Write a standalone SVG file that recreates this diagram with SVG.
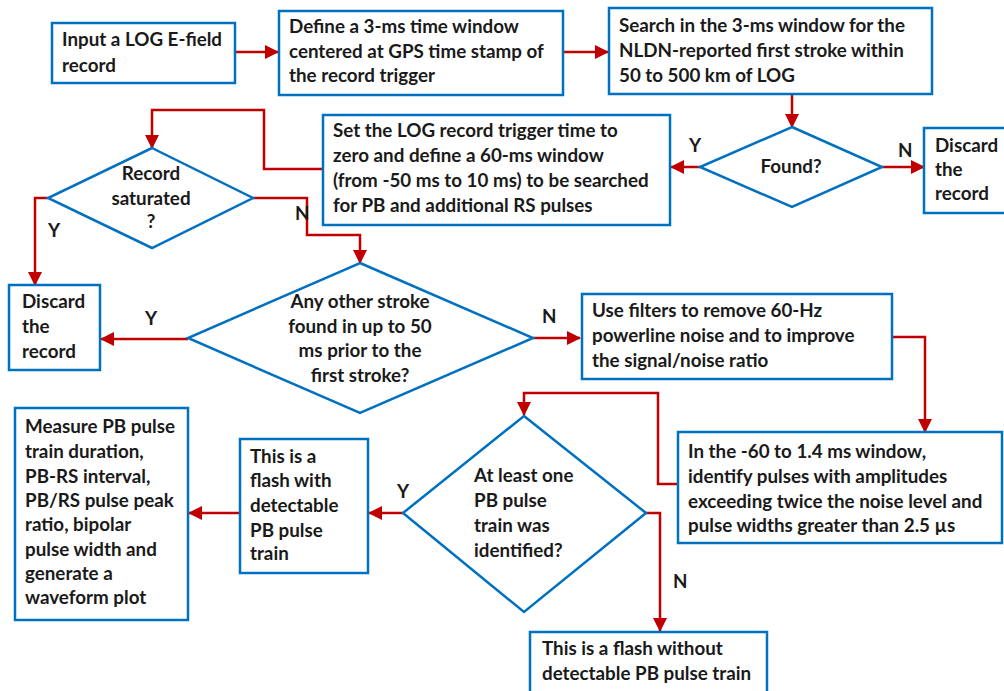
<svg xmlns="http://www.w3.org/2000/svg" width="1004" height="691" viewBox="0 0 1004 691">
<style>
.box{fill:#fff;stroke:#0070C0;stroke-width:2.5}
.dia{fill:#fff;stroke:#0070C0;stroke-width:2.5}
.ln{fill:none;stroke:#C00000;stroke-width:2.5}
text{font-family:Lato,"Liberation Sans",sans-serif;font-weight:bold;font-size:18.8px;fill:#1a1a1a}
.c{text-anchor:middle}
</style>
<defs>
<marker id="ah" markerUnits="userSpaceOnUse" markerWidth="14" markerHeight="14" viewBox="0 0 14 14" refX="13" refY="7" orient="auto">
<path d="M0,0 L14,7 L0,14 Z" fill="#C00000"/>
</marker>
</defs>
<rect width="1004" height="691" fill="#fff"/>
<g id="connectors">
<path class="ln" d="M235,52 H278" marker-end="url(#ah)"/>
<path class="ln" d="M563,52 H608" marker-end="url(#ah)"/>
<path class="ln" d="M792,94 V127" marker-end="url(#ah)"/>
<path class="ln" d="M700,167 H671" marker-end="url(#ah)"/>
<path class="ln" d="M882,167 H924" marker-end="url(#ah)"/>
<path class="ln" d="M323,169 H264 V110 H152 V148" marker-end="url(#ah)"/>
<path class="ln" d="M48,198 H35 V285" marker-end="url(#ah)"/>
<path class="ln" d="M253,198 H307 V235 H360 V263" marker-end="url(#ah)"/>
<path class="ln" d="M188,339 H101" marker-end="url(#ah)"/>
<path class="ln" d="M533,338 H580" marker-end="url(#ah)"/>
<path class="ln" d="M892,337 H925 V432" marker-end="url(#ah)"/>
<path class="ln" d="M678,484 H658 V393 H524 V415" marker-end="url(#ah)"/>
<path class="ln" d="M403,513 H369" marker-end="url(#ah)"/>
<path class="ln" d="M240,513 H189" marker-end="url(#ah)"/>
<path class="ln" d="M646,513 H660 V631" marker-end="url(#ah)"/>
<text x="689" y="152">Y</text>
<text x="898" y="157">N</text>
<text x="48" y="237">Y</text>
<text x="295" y="220">N</text>
<text x="145" y="325">Y</text>
<text x="542" y="323">N</text>
<text x="397" y="498">Y</text>
<text x="673" y="588">N</text>
</g>
<g id="n1"><rect class="box" x="52" y="23" width="183" height="60"/>
<text x="62" y="46">Input a LOG E-field</text><text x="62" y="72">record</text></g>
<g id="n2"><rect class="box" x="279" y="11" width="284" height="84"/>
<text x="289" y="33">Define a 3-ms time window</text><text x="289" y="58">centered at GPS time stamp of</text><text x="289" y="82">the record trigger</text></g>
<g id="n3"><rect class="box" x="609" y="8" width="323" height="86"/>
<text x="619" y="32">Search in the 3-ms window for the</text><text x="619" y="57">NLDN-reported first stroke within</text><text x="619" y="82">50 to 500 km of LOG</text></g>
<g id="n4"><polygon class="dia" points="792,127 882,167 792,207 700,167"/>
<text class="c" x="791" y="173">Found?</text></g>
<g id="n5"><rect class="box" x="924" y="128" width="90" height="85"/>
<text x="935" y="152">Discard</text><text x="935" y="176">the</text><text x="935" y="200">record</text></g>
<g id="n6"><rect class="box" x="323" y="115" width="347" height="110"/>
<text x="333" y="137">Set the LOG record trigger time to</text><text x="333" y="162">zero and define a 60-ms window</text><text x="333" y="187">(from -50 ms to 10 ms) to be searched</text><text x="333" y="212">for PB and additional  RS pulses</text></g>
<g id="n7"><polygon class="dia" points="152,148 253,198 152,248 48,198"/>
<text class="c" x="151" y="180">Record</text><text class="c" x="151" y="205">saturated</text><text class="c" x="151" y="228">?</text></g>
<g id="n8"><rect class="box" x="9" y="285" width="91" height="85"/>
<text x="22" y="308">Discard</text><text x="22" y="333">the</text><text x="22" y="358">record</text></g>
<g id="n9"><polygon class="dia" points="360,263 533,338 360,413 188,338"/>
<text class="c" x="360" y="308">Any other stroke</text><text class="c" x="360" y="333">found in up to 50</text><text class="c" x="360" y="357">ms prior to the</text><text class="c" x="360" y="382">first stroke?</text></g>
<g id="n10"><rect class="box" x="582" y="294" width="310" height="85"/>
<text x="592" y="317">Use filters to remove 60-Hz</text><text x="592" y="342">powerline noise and to improve</text><text x="592" y="367">the signal/noise  ratio</text></g>
<g id="n11"><rect class="box" x="678" y="432" width="324" height="111"/>
<text x="688" y="458">In the -60 to 1.4 ms window,</text><text x="688" y="483">identify pulses with amplitudes</text><text x="688" y="508">exceeding twice the noise level and</text><text x="688" y="532">pulse widths greater than 2.5 µs</text></g>
<g id="n12"><polygon class="dia" points="524,416 646,513 524,612 403,513"/>
<text x="474" y="482">At least one</text><text x="474" y="507">PB pulse</text><text x="474" y="532">train was</text><text x="474" y="557">identified?</text></g>
<g id="n13"><rect class="box" x="240" y="439" width="128" height="134"/>
<text x="250" y="463">This is a</text><text x="250" y="487">flash with</text><text x="250" y="512">detectable</text><text x="250" y="537">PB pulse</text><text x="250" y="560">train</text></g>
<g id="n14"><rect class="box" x="15" y="408" width="173" height="212"/>
<text x="25" y="433">Measure PB pulse</text><text x="25" y="458">train duration,</text><text x="25" y="483">PB-RS interval,</text><text x="25" y="507">PB/RS pulse peak</text><text x="25" y="531">ratio, bipolar</text><text x="25" y="556">pulse width and</text><text x="25" y="580">generate a</text><text x="25" y="604">waveform plot</text></g>
<g id="n15"><rect class="box" x="530" y="632" width="237" height="70"/>
<text x="542" y="655">This is a flash without</text><text x="542" y="680">detectable PB pulse train</text></g>
</svg>
